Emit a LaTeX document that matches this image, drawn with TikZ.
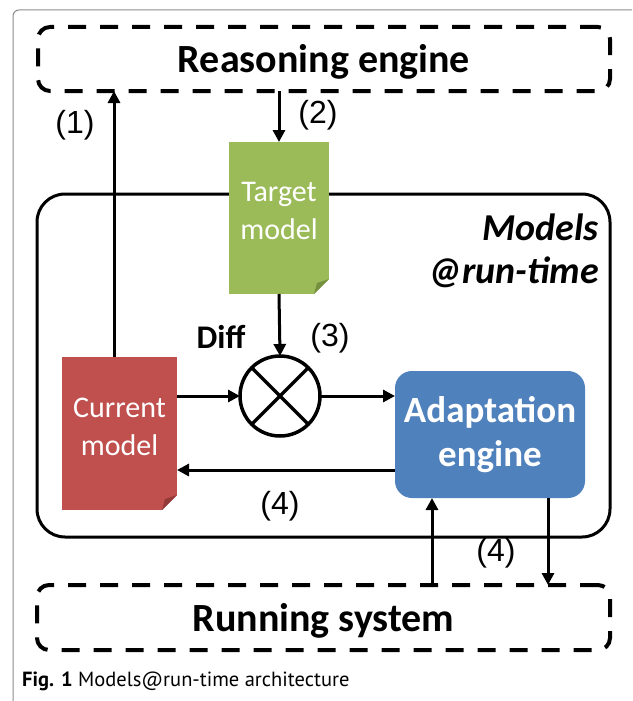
\documentclass[tikz,border=0pt]{standalone}
\usepackage{fontspec}
\setmainfont{Carlito}
\newfontfamily\numfont{Liberation Sans}
\newfontfamily\capfont{PT Sans}
\usetikzlibrary{arrows.meta}

\definecolor{docgreen}{HTML}{9BBB59}
\definecolor{folddgreen}{HTML}{75903F}
\definecolor{docred}{HTML}{C0504D}
\definecolor{folddred}{HTML}{933A38}
\definecolor{engblue}{HTML}{4F81BD}
\definecolor{framegray}{HTML}{8C8C8C}

\tikzset{
  arr/.style={line width=3pt, -{Triangle[length=12pt,width=12pt]}},
  dashbox/.style={draw, line width=4pt, dash pattern=on 18pt off 14pt,
    rounded corners=12pt, inner sep=0pt, outer sep=0pt,
    text height=27pt, text depth=0pt,
    font=\bfseries\fontsize{40}{48}\selectfont},
  docshape/.style={inner sep=0pt, outer sep=0pt,
    path picture={
      \fill[white] ([xshift=-15pt]path picture bounding box.south east) --
        (path picture bounding box.south east) --
        ([yshift=15pt]path picture bounding box.south east) -- cycle;
      \fill[#1] ([xshift=-15pt]path picture bounding box.south east) --
        ([yshift=15pt]path picture bounding box.south east) --
        ([xshift=-12pt,yshift=11pt]path picture bounding box.south east) -- cycle;
    }},
  doctext/.style={inner sep=0pt, align=center, text=white,
    font=\fontsize{30}{38}\selectfont},
  mrttext/.style={anchor=base east, inner sep=0pt,
    font=\bfseries\itshape\fontsize{38}{44}\selectfont},
  lbl/.style={font=\numfont\fontsize{32}{38}\selectfont, inner sep=0pt},
}

\begin{document}
\begin{tikzpicture}[x=1pt, y=-1pt]
\useasboundingbox (0,0) rectangle (632,701);

% outer frame
\draw[framegray, line width=1pt, rounded corners=6pt] (13,701) -- (13,10) -- (632,10);

% the two external parts
\node[dashbox, minimum width=572pt, minimum height=64pt] (re) at (324,59) {Reasoning engine};
\node[dashbox, minimum width=573pt, minimum height=65pt] (rs) at (323.5,617.5) {Running system};

% models@run-time container
\node[draw, line width=3pt, rounded corners=28pt, minimum width=573pt,
      minimum height=343pt, inner sep=0pt, outer sep=0pt] (mrt) at (323.5,365.5) {};
\node[mrttext] (mrtl1) at (599,240) {Models};
\node[mrttext] (mrtl2) at (599,283) {@run-time};

% models
\node[docshape=folddgreen, fill=docgreen, minimum width=100pt, minimum height=152pt]
  (tgt) at (279,218) {};
\node[doctext] (tgttxt) at ([yshift=7pt]tgt.center) {Target\\model};
\node[docshape=folddred, fill=docred, minimum width=115pt, minimum height=153pt]
  (cur) at (119.5,433.5) {};
\node[doctext] (curtxt) at ([yshift=7pt]cur.center) {Current\\model};

% comparison operator
\node[draw, circle, line width=3.5pt, minimum size=80pt, inner sep=0pt, outer sep=0pt]
  (diff) at (280,396) {};
\draw[line width=3.5pt] (diff.north west) -- (diff.south east)
                        (diff.north east) -- (diff.south west);
\node[font=\bfseries\fontsize{33}{38}\selectfont, inner sep=0pt] (difflbl) at (221,337) {Diff};

% adaptation engine
\node[fill=engblue, rounded corners=17pt, minimum width=190pt, minimum height=127pt,
      inner sep=0pt, outer sep=0pt, align=center, text=white,
      font=\bfseries\fontsize{37}{44}\selectfont] (ad) at (490,434.5) {Adaptation\\engine};

% connector end points
\coordinate (upx)   at ([xshift=-5.5pt]cur.north);
\coordinate (fback) at ([yshift=28pt]ad.south west);
\coordinate (inx)   at ([xshift=37pt]ad.south west);
\coordinate (outx)  at ([xshift=-37pt]ad.south east);

% connectors
\draw[arr] (upx) -- (upx |- re.south);
\draw[arr] (re.south -| tgt.north) -- (tgt.north);
\draw[arr] (tgt.south) -- (diff.north);
\draw[arr] (cur.east |- diff.west) -- (diff.west);
\draw[arr] (diff.east) -- (ad.west |- diff.east);
\draw[arr] (fback) -- (cur.east |- fback);
\draw[arr] (rs.north -| inx) -- (inx);
\draw[arr] (outx) -- (rs.north -| outx);

% step labels
\node[lbl] (l1) at (75,125) {(1)};
\node[lbl] (l2) at (318,115) {(2)};
\node[lbl] (l3) at (330,338) {(3)};
\node[lbl] (l4a) at (280,506) {(4)};
\node[lbl] (l4b) at (496,553) {(4)};

% caption
\node[anchor=base west, inner sep=0pt, font=\capfont\fontsize{20.5}{24}\selectfont]
  (cap) at (22,686) {\textbf{Fig. 1} Models@run-time architecture};
\end{tikzpicture}
\end{document}
